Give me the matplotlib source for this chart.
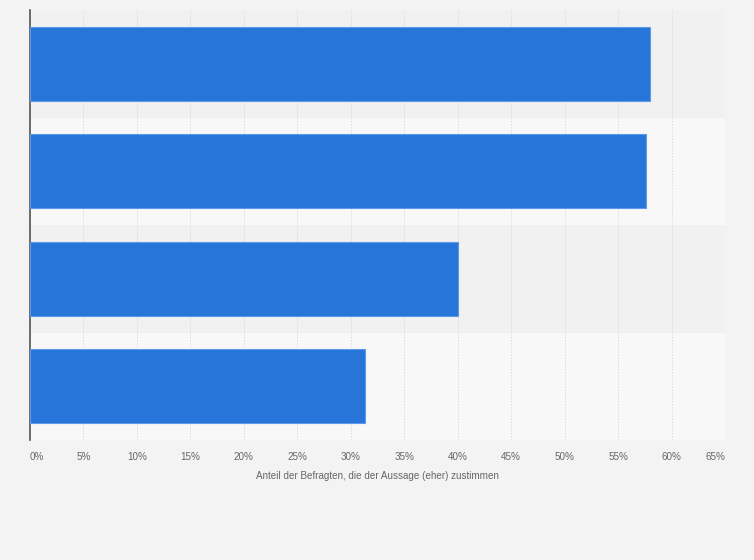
import matplotlib
matplotlib.use("Agg")
import matplotlib.pyplot as plt

categories = ["A", "B", "C", "D"]
values = [58.0, 57.6, 40.0, 31.3]
xticks = [0, 5, 10, 15, 20, 25, 30, 35, 40, 45, 50, 55, 60, 65]
xlabel = "Anteil der Befragten, die der Aussage (eher) zustimmen"

plt.rcParams['font.family'] = ['Liberation Sans', 'DejaVu Sans']

W, H = 754, 560
fig = plt.figure(figsize=(W / 100, H / 100), dpi=100, facecolor="#f3f3f3")
ax = fig.add_axes([30 / W, 1 - 440 / H, (725 - 30) / W, (440 - 10) / H])
ax.set_facecolor("#f3f3f3")

n = len(categories)
ypos = list(range(n))
for i in ypos:
    ax.axhspan(i - 0.5, i + 0.5, color="#f1f1f1" if i % 2 == 0 else "#f8f8f8", zorder=0, lw=0)

ax.barh(ypos, values, height=0.69, color="#2775d9", edgecolor="#5c9be8", linewidth=0.8, zorder=3)

ax.set_xlim(0, 65)
ax.set_ylim(n - 0.5, -0.5)
ax.set_xticks(xticks)
ax.set_xticklabels([f"{t}%" for t in xticks], fontsize=7.1, color="#666666")
labels = ax.get_xticklabels()
labels[0].set_horizontalalignment("left")
labels[-1].set_horizontalalignment("right")
ax.tick_params(axis="x", length=0, pad=9)
ax.set_yticks(ypos)
ax.set_yticklabels([])
ax.tick_params(axis="y", length=0)
ax.xaxis.grid(True, color="#dcdcdc", linestyle=(0, (1.5, 1.5)), linewidth=0.7, zorder=1)
ax.set_axisbelow(True)

for s in ["top", "right", "bottom"]:
    ax.spines[s].set_visible(False)
ax.spines["left"].set_color("#555555")
ax.spines["left"].set_linewidth(1.2)

ax.set_xlabel(xlabel, fontsize=7.1, color="#666666", labelpad=6)

fig.savefig("out.png", dpi=100, facecolor=fig.get_facecolor())
